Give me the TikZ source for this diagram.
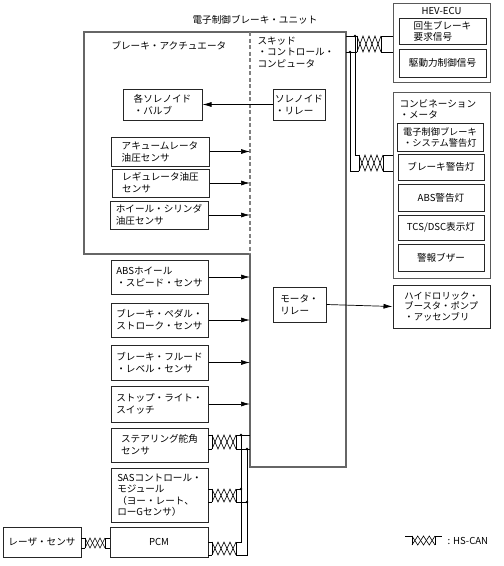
\documentclass[tikz,border=0pt]{standalone}
\usepackage{fontspec}
\setmainfont{Noto Sans CJK JP}
\usetikzlibrary{arrows.meta}
\newcommand{\twp}[4]{%
  \pgfmathsetmacro{\td}{(#2-#1)/4}%
  \draw[wire] (#1,#3)--(#1,#4) (#2,#3)--(#2,#4);
  \draw[wire] (#1,#3) -- ++(\td,#4-#3) -- ++(\td,#3-#4) -- ++(\td,#4-#3) -- ++(\td,#3-#4);
  \draw[wire] (#1,#4) -- ++(\td,#3-#4) -- ++(\td,#4-#3) -- ++(\td,#3-#4) -- ++(\td,#4-#3);
}
\begin{document}
\begin{tikzpicture}[x=1pt,y=-1pt,
  every node/.style={font=\fontsize{9.6pt}{12pt}\selectfont},
  box/.style={draw=black!85, line width=1pt, align=left, inner sep=1.5pt},
  grp/.style={draw=black!65, line width=1pt},
  wire/.style={draw=black, line width=0.6pt},
  arr/.style={line width=0.7pt, -{Latex[length=9pt,width=5pt]}},
  jdot/.style={fill=black, circle, inner sep=0pt, minimum size=2.6pt}]
\useasboundingbox (0,0) rectangle (504,566);
% unit outline
\draw[line width=1.1pt, draw=black!60] (84,32) -- (346,32) -- (346,467) -- (250,467) -- (250,254) -- (84,254) -- cycle;
\draw[line width=1.1pt, draw=black!50, dash pattern=on 4pt off 2.5pt] (250,32) -- (250,254);
\coordinate (cx) at (250,0);
\node (title) at (255,20) {電子制御ブレーキ・ユニット};
\node[anchor=west] (act) at (108,46) {ブレーキ・アクチュエータ};
\node[anchor=north west, align=left, font=\fontsize{9.6pt}{11.5pt}\selectfont] (scc) at (254,33) {スキッド\\・コントロール・\\コンピュータ};
% actuator internals
\node[box, minimum width=79pt, minimum height=31pt] (valve) at (162.5,104.5) {各ソレノイド\\・バルブ};
\node[box, minimum width=52pt, minimum height=31pt] (srelay) at (299,104.5) {ソレノイド\\・リレー};
\draw[arr] (srelay.west) -- (valve.east);
\node[box, minimum width=98pt, minimum height=29pt] (acc) at (160,151.5) {アキュームレータ\\油圧センサ};
\node[box, minimum width=97pt, minimum height=28pt] (reg) at (160.5,183) {レギュレータ油圧\\センサ};
\node[box, minimum width=98pt, minimum height=28pt] (whl) at (159,215) {ホイール・シリンダ\\油圧センサ};
\foreach \n in {acc,reg,whl} \draw[arr] (\n.east) -- (\n.east -| cx);
% sensors
\node[box, minimum width=97pt, minimum height=34pt] (abs) at (159.5,277) {ABSホイール\\・スピード・センサ};
\node[box, minimum width=97pt, minimum height=34pt] (pedal) at (159.5,320) {ブレーキ・ペダル・\\ストローク・センサ};
\node[box, minimum width=97pt, minimum height=35pt] (fluid) at (159.5,362.5) {ブレーキ・フルード\\・レベル・センサ};
\node[box, minimum width=97pt, minimum height=36pt] (stop) at (159.5,404) {ストップ・ライト・\\スイッチ};
\foreach \n in {abs,pedal,fluid,stop} \draw[arr] (\n.east) -- (\n.east -| cx);
\node[box, minimum width=97pt, minimum height=34pt] (steer) at (159.5,445) {ステアリング舵角\\センサ};
\node[box, minimum width=97pt, minimum height=54pt, font=\fontsize{9.6pt}{11.5pt}\selectfont] (sas) at (159.5,495) {SASコントロール・\\モジュール\\（ヨー・レート、\\ローGセンサ）};
\node[box, minimum width=98pt, minimum height=30pt, align=center] (pcm) at (159,542) {PCM};
\node[box, minimum width=78pt, minimum height=30pt, align=center] (laser) at (42,542) {レーザ・センサ};
% motor relay and pump
\node[box, minimum width=53pt, minimum height=35pt] (mrelay) at (299.5,304.5) {モータ・\\リレー};
\node[box, minimum width=97pt, minimum height=43pt, font=\fontsize{9.3pt}{10.5pt}\selectfont] (hyd) at (441.5,306.5) {ハイドロリック・\\ブースタ・ポンプ\\・アッセンブリ};
\draw[arr] (mrelay.east) -- (hyd.west);
% HEV-ECU
\draw[grp] (393,3) rectangle (490,82);
\node (hevt) at (441.5,10.5) {HEV-ECU};
\node[box, minimum width=87pt, minimum height=26pt, font=\fontsize{9.6pt}{11pt}\selectfont] (regen) at (442.5,31) {回生ブレーキ\\要求信号};
\node[box, minimum width=87pt, minimum height=28pt, align=center] (drive) at (442.5,63) {駆動力制御信号};
% combination meter
\draw[grp] (393,92) rectangle (490,278);
\node[anchor=north west, align=left, font=\fontsize{9.6pt}{11.5pt}\selectfont] (combt) at (396,96) {コンビネーション\\・メータ};
\node[box, minimum width=86pt, minimum height=28pt, font=\fontsize{9.2pt}{11pt}\selectfont] (esys) at (440,137) {電子制御ブレーキ\\・システム警告灯};
\node[box, minimum width=86pt, minimum height=26pt, align=center] (bwarn) at (441,167) {ブレーキ警告灯};
\node[box, minimum width=86pt, minimum height=27pt, align=center] (awarn) at (441,197.5) {ABS警告灯};
\node[box, minimum width=86pt, minimum height=25pt, align=center] (tcs) at (441,227.5) {TCS/DSC表示灯};
\node[box, minimum width=86pt, minimum height=27pt, align=center] (buzz) at (441,257.5) {警報ブザー};
% CAN: unit -> HEV-ECU and meter
\draw[wire] (346,36) -- (357,36) (381,36) -- (393,36);
\draw[wire] (346,52) -- (357,52) (381,52) -- (393,52);
\twp{357}{381}{36}{52}
\node[jdot] (j1) at (355,36) {};
\node[jdot] (j2) at (350,52) {};
\draw[wire] (j1.center) -- (355,155) -- (359,155);
\draw[wire] (j2.center) -- (350,171) -- (359,171);
\twp{359}{383}{155}{171}
\draw[wire] (383,155) -- (393,155) (383,171) -- (393,171);
% CAN: lower left bus
\draw[wire] (208,435) -- (212,435) (236,435) -- (250,435);
\draw[wire] (208,449) -- (212,449) (236,449) -- (250,449);
\twp{212}{236}{435}{449}
\draw[wire] (208,489) -- (212,489) (236,489) -- (241,489);
\draw[wire] (208,502) -- (212,502) (236,502) -- (247,502);
\twp{212}{236}{489}{502}
\draw[wire] (208,542) -- (212,542);
\draw[wire] (208,555) -- (212,555);
\twp{212}{236}{542}{555}
\node[jdot] (j3) at (241,435) {};
\node[jdot] (j4) at (247,449) {};
\node[jdot] (j5) at (241,489) {};
\node[jdot] (j6) at (247,502) {};
\draw[wire] (j3.center) -- (241,542) -- (236,542);
\draw[wire] (j4.center) -- (247,555) -- (236,555);
% laser - PCM
\draw[wire] (81,538) -- (85,538) (105,538) -- (110,538);
\draw[wire] (81,548) -- (85,548) (105,548) -- (110,548);
\twp{85}{105}{538}{548}
% legend
\draw[wire] (405,536) -- (412,536) (435,536) -- (442,536);
\twp{412}{435}{536}{545}
\node[anchor=west] (leg) at (444,541) {: HS-CAN};
\end{tikzpicture}
\end{document}
